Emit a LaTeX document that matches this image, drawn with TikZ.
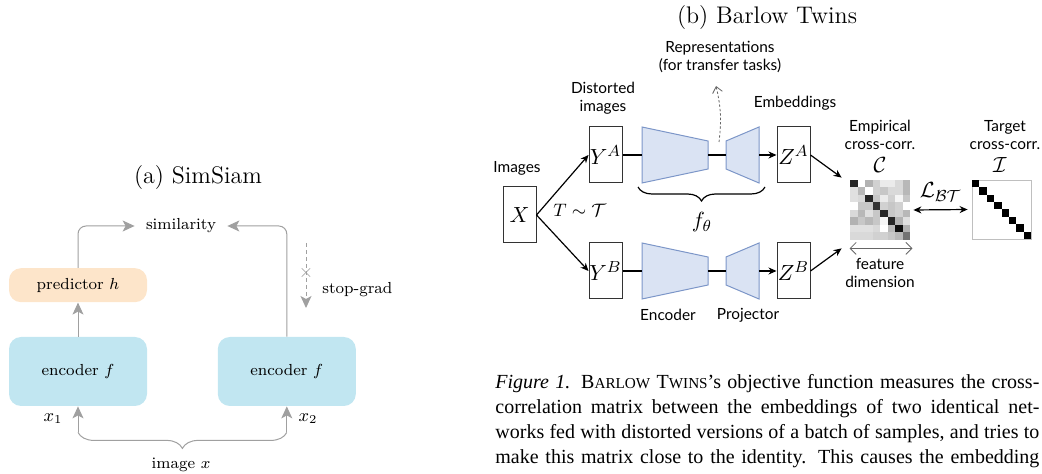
\documentclass[tikz,border=0pt]{standalone}
\usepackage{fontspec}
\usepackage{amsmath}
\newfontfamily\labelfont{Lato}
\newfontfamily\capfont{Liberation Serif}
\usetikzlibrary{positioning, arrows.meta, decorations.pathreplacing}
\definecolor{encblue}{RGB}{193,230,241}
\definecolor{predorange}{RGB}{253,229,202}
\definecolor{linegray}{RGB}{160,160,160}
\definecolor{trapfill}{RGB}{218,227,243}
\definecolor{trapline}{RGB}{124,150,200}
\newcommand{\fakesc}[1]{{\fontsize{7.6}{9}\selectfont #1}}

\begin{document}
\begin{tikzpicture}[
    x=0.5pt, y=-0.5pt,
    simbox/.style={rounded corners=6pt, minimum width=69pt, minimum height=34.5pt, inner sep=0pt, font=\fontsize{8}{9.6}\selectfont},
    encoder/.style={simbox, fill=encblue},
    predictor/.style={simbox, fill=predorange, minimum height=17pt},
    simtext/.style={inner sep=0pt, font=\fontsize{8}{9.6}\selectfont},
    garrow/.style={draw=linegray, line width=0.5pt, rounded corners=4pt, -{Stealth[length=6pt, width=5.5pt, inset=1.5pt]}},
    gline/.style={draw=linegray, line width=0.5pt},
    title/.style={inner sep=0pt, font=\fontsize{12}{14}\selectfont},
    vbox/.style={draw=black!80, line width=0.5pt, minimum width=16.5pt, minimum height=28pt, inner sep=0pt, font=\fontsize{11}{13}\selectfont},
    trap/.style={draw=trapline, fill=trapfill, line width=0.5pt},
    barrow/.style={line width=0.6pt, -{Stealth[length=4pt, width=3.5pt]}},
    plain/.style={line width=0.6pt},
    mathlbl/.style={inner sep=0pt, font=\fontsize{11}{13}\selectfont},
    lbl/.style={inner sep=0pt, align=center, font=\labelfont\fontsize{7.7}{9}\selectfont},
    capline/.style={inner sep=0pt, anchor=base west, font=\capfont\fontsize{10}{12.5}\selectfont}
]
\useasboundingbox (0,0) rectangle (1042,474);

% (a) SimSiam
\node[title] (tsim) at (198,178) {(a) SimSiam};
\node[encoder] (enc1) at (78,371.5) {encoder $f$};
\node[predictor, above=17pt of enc1] (pred) {predictor $h$};
\node[encoder, right=35pt of enc1] (enc2) {encoder $f$};
\node[simtext, inner xsep=5.5pt] (sim) at (181,226) {similarity};
\node[simtext, font=\fontsize{9}{11}\selectfont] (x1) at (53,419) {$x_1$};
\node[simtext, font=\fontsize{9}{11}\selectfont] (x2) at (308,419) {$x_2$};
\node[simtext] (img) at (181,465) {image $x$};
\path (enc1.south) ++(0,26) coordinate (b1);
\path (enc2.south) ++(0,26) coordinate (b2);

\draw[garrow] (enc1) -- (pred);
\draw[garrow] (pred.north) |- (sim.west);
\draw[garrow] (enc2.north) |- (sim.east);
\draw[garrow] (b1) -- (enc1.south);
\draw[garrow] (b2) -- (enc2.south);
\draw[gline, decorate, decoration={brace, mirror, amplitude=8pt}] (b1) -- (b2);

\coordinate (sg0) at (306,243);
\coordinate (sg1) at (306,308);
\draw[garrow, dash pattern=on 2pt off 1.5pt] (sg0) -- (sg1);
\node[inner sep=0pt, text=linegray, font=\fontsize{9}{10}\selectfont] (sgx) at (306,273) {$\times$};
\node[simtext, anchor=west] (sg) at (322,290) {stop-grad};

% (b) Barlow Twins
\node[title] (tbar) at (767,18) {(b) Barlow Twins};
\node[vbox] (X) at (519.5,215) {$X$};
\node[lbl] (limg) at (517,168) {Images};
\node[lbl] (ldist) at (603,98) {Distorted\\images};
\node[lbl] (lemb) at (795,103) {Embeddings};
\node[lbl] (lrep) at (720,57) {Representations\\(for transfer tasks)};
\node[lbl] (lenc) at (668,315) {Encoder};
\node[lbl] (lproj) at (748,315) {Projector};
\node[inner sep=0pt, anchor=west, font=\fontsize{9}{11}\selectfont] (tdist) at (553,210) {$T\sim\mathcal{T}$};

\foreach \b/\yc in {A/155, B/271} {
  \node[vbox] (Y\b) at (605.5,\yc) {$Y^{\b}$};
  \node[vbox] (Z\b) at (793.5,\yc) {$Z^{\b}$};
  \draw[trap] (642,{\yc-28}) -- (708,{\yc-14}) -- (708,{\yc+14}) -- (642,{\yc+28}) -- cycle;
  \draw[trap] (726,{\yc-14}) -- (759,{\yc-28}) -- (759,{\yc+28}) -- (726,{\yc+14}) -- cycle;
  \coordinate (encW\b) at (642,\yc);
  \coordinate (encE\b) at (708,\yc);
  \coordinate (projW\b) at (726,\yc);
  \coordinate (projE\b) at (759,\yc);
  \draw[plain] (Y\b) -- (encW\b);
  \draw[plain] (encE\b) -- (projW\b);
  \draw[barrow] (projE\b) -- (Z\b);
  \draw[barrow] (X.east) -- (Y\b.west);
}

\draw[plain, decorate, decoration={brace, mirror, amplitude=7pt}] (638,187) -- (765,187);
\node[mathlbl] (ftheta) at (702,222) {$f_\theta$};

\coordinate (rep0) at (719,142);
\coordinate (rep1) at (716,86);
\draw[black!60, line width=0.4pt, dash pattern=on 1.2pt off 1pt, -{Straight Barb[length=3pt, width=5pt]}] (rep0) to[bend right=10] (rep1);

% cross-correlation matrices
\node[inner sep=0pt, minimum size=30pt] (C) at (880,210) {};
\foreach \row [count=\r from 0] in {{85,0,30,18,8,8,15,28},{12,28,0,18,22,15,15,28},{12,15,85,22,8,18,4,22},{0,22,22,80,18,22,18,0},{15,28,12,22,85,22,18,28},{30,22,28,22,4,85,30,12},{12,12,12,15,0,28,95,30},{15,15,15,18,18,22,28,55}} {
  \foreach \v [count=\c from 0] in \row
    \fill[black!\v] ({850+7.5*\c},{180+7.5*\r}) rectangle ++(7.5,7.5);
}
\node[draw=black!25, line width=0.4pt, inner sep=0pt, minimum size=29.5pt] (I) at (1001.5,209.5) {};
\foreach \k in {0,...,7}
  \fill ({972+7.375*\k},{180+7.375*\k}) rectangle ++(7.375,7.375);

\node[lbl] (lemp) at (880,135) {Empirical\\cross-corr.};
\node[lbl] (ltar) at (1005,135) {Target\\cross-corr.};
\node[mathlbl] (lC) at (880,165) {$\mathcal{C}$};
\node[mathlbl] (lI) at (1000,165) {$\mathcal{I}$};
\node[lbl] (lfeat) at (880,273) {feature\\dimension};

\draw[barrow] (ZA.east) -- ([shift={(-8,-2)}]C.north west);
\draw[barrow] (ZB.east) -- ([shift={(-8,8)}]C.south west);
\draw[line width=0.6pt, {Stealth[length=4pt, width=3.5pt]}-{Stealth[length=4pt, width=3.5pt]}] ([shift={(3,0)}]C.east) -- ([shift={(-4,0)}]I.west) node[mathlbl, midway, above=4pt] (lbt) {$\mathcal{L}_{\mathcal{BT}}$};
\draw[black!60, line width=0.4pt, {Straight Barb[length=3pt, width=6pt]}-{Straight Barb[length=3pt, width=6pt]}] ([shift={(0,8)}]C.south west) -- ([shift={(2,8)}]C.south east);

% caption
\node[capline] (cap1) at (495,389) {\makebox[272pt][s]{\textit{Figure 1.} B\fakesc{ARLOW} T\fakesc{WINS}’s objective function measures the cross-}};
\node[capline] (cap2) at (495,414) {\makebox[272pt][s]{correlation matrix between the embeddings of two identical net-}};
\node[capline] (cap3) at (495,439) {\makebox[272pt][s]{works fed with distorted versions of a batch of samples, and tries to}};
\node[capline] (cap4) at (495,464) {\makebox[272pt][s]{make this matrix close to the identity. This causes the embedding}};

\end{tikzpicture}
\end{document}
